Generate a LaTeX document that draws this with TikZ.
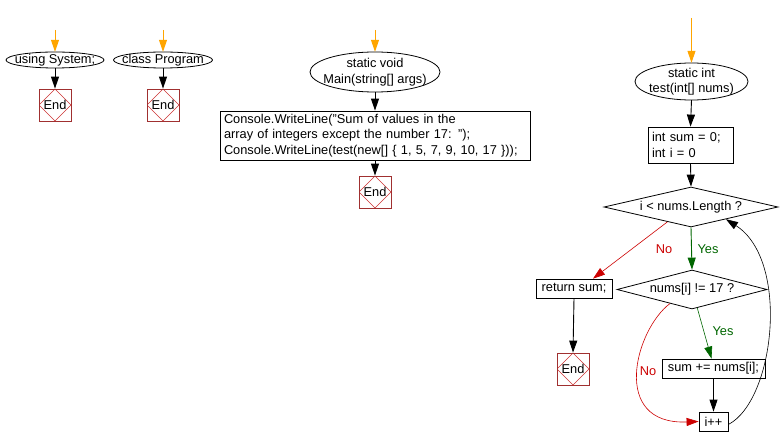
\documentclass[tikz,border=0pt]{standalone}
\usepackage{fontspec}
\setmainfont{Liberation Sans}
\usetikzlibrary{shapes.geometric,arrows.meta,calc}
\definecolor{endred}{HTML}{A03030}
\definecolor{dred}{HTML}{CC3333}
\definecolor{nored}{HTML}{CC0000}
\definecolor{yesgreen}{HTML}{006600}
\definecolor{startorange}{HTML}{FFA500}
\begin{document}
\begin{tikzpicture}[x=1pt,y=-1pt,
  every node/.style={font=\fontsize{12.8}{15.5}\selectfont},
  arr/.style={line width=0.9pt,-{Triangle[length=12pt,width=8pt]}},
  startarr/.style={arr,line width=1pt,draw=startorange,-{Triangle[length=12pt,width=8pt,fill=startorange]}},
  ell/.style={shape=rectangle,inner sep=0pt},
  procbox/.style={draw,line width=0.8pt,inner sep=0pt},
  endbox/.style={draw=endred,line width=0.8pt,minimum width=32pt,minimum height=32pt,inner sep=0pt,
    path picture={\draw[dred,line width=0.6pt] (path picture bounding box.north) -- (path picture bounding box.east) -- (path picture bounding box.south) -- (path picture bounding box.west) -- cycle;}},
  decision/.style={draw,line width=0.8pt,shape=diamond,inner sep=0pt},
  nolab/.style={text=nored},
  yeslab/.style={text=yesgreen}
]
\useasboundingbox (0,0) rectangle (782,446);

% using System;
\node[ell,minimum width=98pt,minimum height=16pt] (us) at (55,60) {using System;};
\draw[line width=0.8pt] (us.center) ellipse [x radius=49pt, y radius=8pt];
\node[endbox] (usend) at (55,105) {End};
\coordinate (us0) at (55,30);
\draw[startarr] (us0) -- (us.north);
\draw[arr] (us.south) -- (usend.north);

% class Program
\node[ell,minimum width=99pt,minimum height=16pt] (cp) at (163,60) {class Program};
\draw[line width=0.8pt] (cp.center) ellipse [x radius=49.5pt, y radius=8pt];
\node[endbox] (cpend) at (163,105) {End};
\coordinate (cp0) at (163,30);
\draw[startarr] (cp0) -- (cp.north);
\draw[arr] (cp.south) -- (cpend.north);

% Main
\node[ell,minimum width=130pt,minimum height=40pt,align=center] (mn) at (375,72) {static void\\Main(string[] args)};
\draw[line width=0.8pt] (mn.center) ellipse [x radius=65pt, y radius=20pt];
\coordinate (mn0) at (375,30);
\draw[startarr] (mn0) -- (mn.north);
\node[procbox,minimum width=310pt,minimum height=49pt,inner xsep=4pt,text width=302pt,align=left] (mbox) at (375,135.5)
  {Console.WriteLine("Sum of values in the\\array of integers except the number 17: ");\\Console.WriteLine(test(new[] \{ 1, 5, 7, 9, 10, 17 \}));};
\node[endbox] (mnend) at (375,192) {End};
\draw[arr] (mn.south) -- (mbox.north);
\draw[arr] (mbox.south) -- (mnend.north);

% test
\node[ell,minimum width=113pt,minimum height=37pt,align=center] (ts) at (691.5,81.5) {static int\\test(int[] nums)};
\draw[line width=0.8pt] (ts.center) ellipse [x radius=56.5pt, y radius=18.5pt];
\coordinate (ts0) at (691.5,18);
\draw[startarr] (ts0) -- (ts.north);
\node[procbox,minimum width=85pt,minimum height=36pt,inner xsep=4pt,text width=77pt,align=left] (init) at (690.5,145) {int sum = 0;\\int i = 0};
\draw[arr] (ts.south) -- (init.north);
\node[decision,minimum width=174pt,minimum height=40pt,aspect=4.35] (d1) at (691,207) {i < nums.Length ?};
\draw[arr] (init.south) -- (d1.north);

\node[decision,minimum width=150pt,minimum height=39pt,aspect=3.85] (d2) at (692,289.5) {nums[i] != 17 ?};
\node[procbox,minimum width=76pt,minimum height=19pt] (ret) at (574,288.5) {return sum;};
\node[endbox] (tsend) at (573,369) {End};
\node[procbox,minimum width=103pt,minimum height=19pt] (sum) at (713.5,368.5) {sum += nums[i];};
\node[procbox,minimum width=29pt,minimum height=19pt] (ipp) at (713.5,421.5) {i++};

\draw[arr,draw=yesgreen,-{Triangle[length=12pt,width=8pt,fill=yesgreen]}] (d1.south) -- (d2.north);
\node[yeslab] (y1) at (708,249) {Yes};
\draw[arr,draw=nored,line width=0.6pt,-{Triangle[length=12pt,width=8pt,fill=nored]}] ($(d1.west)!0.73!(d1.south)$) -- ([xshift=19pt]ret.north);
\node[nolab] (n1) at (664,249) {No};
\draw[arr] (ret.south) -- (tsend.north);

\draw[arr,draw=yesgreen,line width=0.6pt,-{Triangle[length=12pt,width=8pt,fill=yesgreen]}] ($(d2.south)!0.07!(d2.east)$) -- ([xshift=-2pt]sum.north);
\node[yeslab] (y2) at (723,331) {Yes};
\draw[arr,draw=nored,line width=0.6pt,-{Triangle[length=12pt,width=8pt,fill=nored]}] ($(d2.west)!0.707!(d2.south)$) .. controls (635,330) and (610,425) .. (ipp.west);
\node[nolab] (n2) at (648,371) {No};
\draw[arr] (sum.south) -- (ipp.north);
\draw[arr,line width=0.6pt] ([yshift=-3pt]ipp.east) .. controls (775,400) and (790,260) .. ($(d1.south)!0.4!(d1.east)$);
\end{tikzpicture}
\end{document}
